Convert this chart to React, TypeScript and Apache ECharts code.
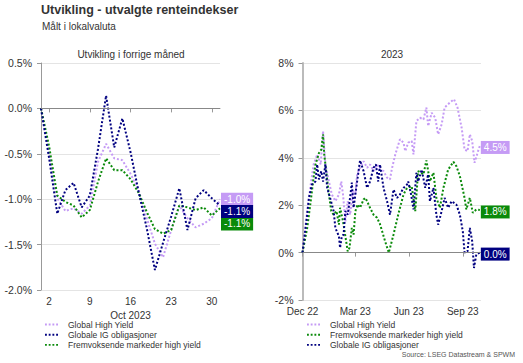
import React, { useEffect, useRef } from "react";
import * as echarts from "echarts";

// ---------- Data: left panel (previous month, trading days) ----------
const leftDates = [
  "2023-09-29", "2023-10-02", "2023-10-03", "2023-10-04", "2023-10-05", "2023-10-06",
  "2023-10-09", "2023-10-10", "2023-10-11", "2023-10-12", "2023-10-13",
  "2023-10-16", "2023-10-17", "2023-10-18", "2023-10-19", "2023-10-20",
  "2023-10-23", "2023-10-24", "2023-10-25", "2023-10-26", "2023-10-27",
  "2023-10-30", "2023-10-31",
];
const leftHY = [0, -0.5, -0.99, -1.13, -1.1, -1.16, -1.07, -0.59, -0.39, -0.55, -0.57, -0.72, -0.9, -1.21, -1.49, -1.64, -1.34, -1.07, -1.21, -1.31, -1.27, -1.21, -1.0];
const leftIG = [0, -0.55, -1.16, -0.9, -0.82, -1.09, -0.96, -0.45, 0.14, -0.43, -0.11, -0.48, -0.92, -1.32, -1.78, -1.48, -1.19, -0.88, -1.34, -0.99, -0.9, -0.99, -1.07];
const leftEM = [0, -0.42, -0.96, -1.03, -1.07, -1.2, -1.12, -0.81, -0.55, -0.68, -0.68, -0.78, -0.93, -1.14, -1.33, -1.38, -1.34, -1.07, -1.09, -1.12, -1.09, -1.18, -1.1];

// ---------- Data: right panel (2023, days since 2022-12-31) ----------
const rightHYDays = [0, 8, 14, 19, 25, 31, 35, 39, 45, 50, 56, 62, 66, 69, 73, 77, 81, 86, 90, 93, 98, 104, 110, 115, 121, 127, 132, 138, 144, 149, 152, 158, 166, 172, 175, 180, 186, 189, 194, 200, 206, 211, 214, 220, 226, 231, 237, 242, 251, 258, 264, 271, 276, 281, 285, 289, 293, 299, 302];
const rightHYVals = [0, 1.75, 2.87, 3.72, 4.14, 3.72, 5.13, 3.72, 3.0, 2.45, 2.17, 2.45, 3.0, 2.45, 1.32, 2.17, 1.6, 2.59, 2.45, 3.3, 3.58, 3.86, 3.58, 3.72, 3.44, 3.72, 3.51, 3.44, 3.16, 3.09, 3.51, 4.14, 4.78, 4.64, 4.28, 4.64, 4.71, 4.14, 5.55, 5.69, 5.62, 6.12, 5.34, 5.9, 5.69, 4.99, 5.41, 6.12, 6.33, 6.47, 6.12, 5.27, 4.35, 4.28, 4.99, 4.71, 3.79, 4.28, 4.5];
const rightEMDays = [0, 8, 14, 18, 22, 28, 32, 35, 37, 41, 45, 49, 53, 58, 62, 64, 69, 73, 77, 80, 84, 87, 90, 94, 98, 104, 107, 110, 115, 121, 127, 132, 141, 147, 155, 163, 172, 178, 186, 192, 197, 206, 211, 217, 223, 228, 234, 240, 248, 257, 262, 268, 276, 279, 285, 290, 296, 302];
const rightEMVals = [0, 1.04, 2.17, 3.0, 3.7, 4.2, 4.35, 4.99, 4.14, 3.3, 2.45, 1.75, 1.6, 1.75, 1.18, 1.89, 1.32, 0.69, 0.05, 0.2, 1.04, 0.76, 1.75, 2.03, 1.89, 2.24, 2.31, 2.17, 1.89, 1.6, 1.47, 1.2, 0.45, 0.0, 0.76, 1.6, 2.45, 2.73, 2.8, 1.75, 3.44, 3.3, 3.89, 3.0, 3.37, 2.31, 1.89, 2.73, 3.5, 3.83, 3.65, 3.23, 2.31, 1.82, 2.31, 1.68, 1.82, 1.8];
const rightIGDays = [0, 8, 11, 16, 22, 25, 28, 32, 35, 39, 42, 47, 53, 56, 62, 64, 67, 70, 73, 77, 81, 84, 87, 93, 98, 104, 110, 115, 121, 125, 129, 132, 138, 144, 149, 155, 161, 166, 172, 178, 180, 185, 189, 194, 197, 203, 209, 214, 217, 223, 228, 231, 237, 242, 248, 254, 262, 268, 273, 276, 281, 285, 289, 292, 296, 302];
const rightIGVals = [0, 1.6, 2.31, 2.87, 3.0, 3.72, 3.09, 3.44, 3.0, 3.72, 2.73, 2.31, 1.75, 1.04, 0.69, 0.2, 0.69, 0.76, 1.75, 1.6, 2.31, 2.95, 1.89, 3.0, 3.89, 3.44, 2.73, 3.0, 3.58, 3.72, 3.0, 3.72, 2.73, 2.17, 1.6, 2.66, 2.31, 2.45, 2.73, 2.87, 3.0, 2.45, 1.82, 3.37, 3.0, 3.5, 2.73, 3.3, 2.17, 2.73, 1.6, 1.18, 1.75, 2.31, 1.89, 2.17, 2.03, 1.6, 0.9, 0.0, 0.05, 1.04, 0.48, -0.65, -0.08, 0.0];

const quarterDays = [0, 90, 181, 273];
const quarterLabels = ["Dec 22", "Mar 23", "Jun 23", "Sep 23"];

const NAME_HY = "Global High Yield";
const NAME_IG = "Globale IG obligasjoner";
const NAME_EM = "Fremvoksende markeder high yield";

const C_HY = "#c59bf5";
const C_IG = "#000080";
const C_EM = "#0a8a0a";

const FONT = "'Liberation Sans', Arial, Helvetica, sans-serif";
const TXT = "#333";
const DOTTED_ICON = "path://M0 0h2v2H0zM4 0h2v2H4zM8 0h2v2H8zM12 0h2v2h-2z";

function pairs(xs: number[], ys: number[]) {
  return xs.map((x, i) => [x, ys[i]]);
}

function lineSeries(name: string, color: string, data: any[], idx: number, dy: number, zero: boolean) {
  const s: any = {
    type: "line",
    name,
    xAxisIndex: idx,
    yAxisIndex: idx,
    data,
    showSymbol: false,
    symbol: "none",
    lineStyle: { color, width: 2, type: "dotted" },
    itemStyle: { color },
    endLabel: {
      show: true,
      distance: 1,
      offset: [0, dy],
      formatter: (p: any) => {
        const v = Array.isArray(p.value) ? p.value[1] : p.value;
        return v.toFixed(1) + "%";
      },
      color: "#fff",
      backgroundColor: color,
      padding: [2, 3, 1, 3],
      fontSize: 10,
      fontFamily: FONT,
    },
  };
  if (zero) {
    s.markLine = {
      silent: true,
      symbol: "none",
      label: { show: false },
      lineStyle: { color: "#888", width: 1, type: "solid" },
      data: [{ yAxis: 0 }],
    };
  }
  return s;
}

function legendData(names: string[], colors: string[]) {
  return names.map((n, i) => ({ name: n, icon: DOTTED_ICON, itemStyle: { color: colors[i] } }));
}

export default function App() {
  const ref = useRef<HTMLDivElement>(null);
  useEffect(() => {
    if (!ref.current) return;
    const chart = echarts.init(ref.current, undefined, { renderer: "svg" });
    const isMonday = (_i: number, v: string) => new Date(v + "T00:00:00Z").getUTCDay() === 1;
    const axisLine = { show: true, lineStyle: { color: "#999", width: 1 } };
    const legendBase = {
      orient: "vertical",
      top: 320,
      itemWidth: 13,
      itemHeight: 2,
      itemGap: 1.2,
      padding: 0,
      textStyle: { fontSize: 8.5, color: TXT, padding: [0, 0, 0, 5] },
    };
    const option: any = {
      animation: false,
      textStyle: { fontFamily: FONT },
      title: [
        { text: "Utvikling - utvalgte renteindekser", left: 41, top: 3, padding: 0, textStyle: { fontSize: 12.5, fontWeight: "bold", color: TXT, fontFamily: FONT } },
        { text: "Målt i lokalvaluta", left: 42, top: 21, padding: 0, textStyle: { fontSize: 10, fontWeight: "normal", color: TXT, fontFamily: FONT } },
        { text: "Utvikling i forrige måned", left: 131, top: 49, textAlign: "center", padding: 0, textStyle: { fontSize: 10, fontWeight: "normal", color: TXT, fontFamily: FONT } },
        { text: "2023", left: 392, top: 49, textAlign: "center", padding: 0, textStyle: { fontSize: 10, fontWeight: "normal", color: TXT, fontFamily: FONT } },
      ],
      grid: [
        { left: 41, right: 303, top: 63, bottom: 73 },
        { left: 302.5, right: 42, top: 63, bottom: 63 },
      ],
      xAxis: [
        {
          type: "category",
          gridIndex: 0,
          data: leftDates,
          boundaryGap: false,
          axisLine,
          axisTick: { show: true, interval: isMonday, length: 4, lineStyle: { color: "#999" } },
          axisLabel: {
            interval: isMonday,
            formatter: (v: string) => String(parseInt(v.slice(8), 10)),
            color: TXT,
            fontSize: 10,
            margin: 6,
          },
          name: "Oct 2023",
          nameLocation: "middle",
          nameGap: 17,
          nameTextStyle: { color: TXT, fontSize: 10 },
          splitLine: { show: false },
        },
        {
          type: "value",
          gridIndex: 1,
          min: 0,
          max: 304,
          axisLine,
          axisTick: { show: true, customValues: quarterDays, length: 4, lineStyle: { color: "#999" } },
          axisLabel: {
            customValues: quarterDays,
            formatter: (v: number) => quarterLabels[quarterDays.indexOf(v)] ?? "",
            color: TXT,
            fontSize: 10,
            margin: 6,
          },
          splitLine: { show: false },
        },
      ],
      yAxis: [
        {
          type: "value",
          gridIndex: 0,
          min: -2,
          max: 0.5,
          interval: 0.5,
          axisLine,
          axisTick: { show: true, length: 4, lineStyle: { color: "#999" } },
          axisLabel: { formatter: (v: number) => v.toFixed(1) + "%", color: TXT, fontSize: 10.5, margin: 9 },
          splitLine: { show: true, lineStyle: { color: "#e4e4e4", width: 1 } },
        },
        {
          type: "value",
          gridIndex: 1,
          min: -2,
          max: 8,
          interval: 2,
          axisLine: { show: true, lineStyle: { color: "#bbb", width: 2 } },
          axisTick: { show: true, length: 4, lineStyle: { color: "#999" } },
          axisLabel: { formatter: (v: number) => v + "%", color: TXT, fontSize: 10.5, margin: 9 },
          splitLine: { show: true, lineStyle: { color: "#e4e4e4", width: 1 } },
        },
      ],
      legend: [
        { ...legendBase, left: 45, data: legendData([NAME_HY, NAME_IG, NAME_EM], [C_HY, C_IG, C_EM]) },
        { ...legendBase, left: 307, data: legendData([NAME_HY, NAME_EM, NAME_IG], [C_HY, C_EM, C_IG]) },
      ],
      graphic: [
        {
          type: "text",
          right: 8,
          top: 351,
          style: { text: "Source: LSEG Datastream & SPWM", fontSize: 7, fill: "#555", fontFamily: FONT },
        },
      ],
      series: [
        lineSeries(NAME_HY, C_HY, leftHY, 0, 0, true),
        lineSeries(NAME_EM, C_EM, leftEM, 0, 15.6, false),
        lineSeries(NAME_IG, C_IG, leftIG, 0, 6, false),
        lineSeries(NAME_HY, C_HY, pairs(rightHYDays, rightHYVals), 1, 1.5, true),
        lineSeries(NAME_EM, C_EM, pairs(rightEMDays, rightEMVals), 1, 2, false),
        lineSeries(NAME_IG, C_IG, pairs(rightIGDays, rightIGVals), 1, 1.5, false),
      ],
    };
    chart.setOption(option);
    return () => chart.dispose();
  }, []);
  return <div ref={ref} style={{ width: 523, height: 363, position: "absolute", left: 0, top: 0 }} />;
}
